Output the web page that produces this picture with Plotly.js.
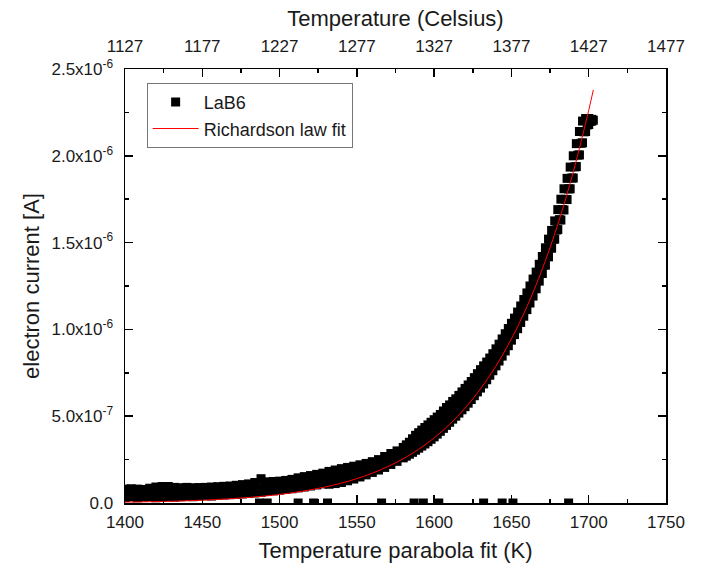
<!DOCTYPE html>
<html>
<head>
<meta charset="utf-8">
<script src="https://cdn.plot.ly/plotly-3.0.1.min.js"></script>
<style>html,body{margin:0;padding:0;background:#fff;}#chart{width:705px;height:566px;}</style>
</head>
<body>
<div id="chart"></div>
<script>
// Temperatures (K) of the measured points
const tempK = [1400,1404,1408,1412,1416,1420,1424,1428,1432,1436,1440,1444,1448,1452,1456,1460,1464,1468,1472,1476,1480,1484,1488,1492,1496,1500,1504,1508,1512,1516,1520,1524,1528,1532,1536,1540,1544,1548,1552,1556,1560,1564,1568,1572,1576,1580,
1582,1584,1586,1588,1590,1592,1594,1596,1598,1600,1602,1604,1606,1608,1610,1612,1614,1616,1618,1620,1622,1624,1626,1628,1630,1632,1634,1636,1638,1640,1642,1644,1646,1648,1650,1652,1654,1656,1658,1660,1662,1664,1666,1668,1670,1672,1674,1676,1678,1680,1682,1684,1686,1688,1690,1692,1694,1696,1698,1700,1702];
// Temperatures (K) of the points inside the band (between the two edges)
const tempMidK = [1402,1406,1410,1414,1418,1422,1426,1430,1434,1438,1442,1446,1450,1454,1458,1462,1466,1470,1474,1478,1482,1486,1490,1494,1498,1502,1506,1510,1514,1518,1522,1526,1530,1534,1538,1542,1546,1550,1554,1558,1562,1566,1570,1574,1578,1581,
1583,1585,1587,1589,1591,1593,1595,1597,1599,1601,1603,1605,1607,1609,1611,1613,1615,1617,1619,1621,1623,1625,1627,1629,1631,1633,1635,1637,1639,1641,1643,1645,1647,1649,1651,1653,1655,1657,1659,1661,1663,1665,1667,1669,1671,1673,1675,1677,1679,1681,1683,1685,1687,1689,1691,1693,1695,1697,1699,1701,1703];
// Electron current (microampere), upper edge of the measured band
const currentUpper = [0.080,0.082,0.080,0.078,0.085,0.092,0.095,0.095,0.090,0.088,0.090,0.088,0.089,0.090,0.092,0.094,0.096,0.098,0.102,0.106,0.110,0.118,0.140,0.122,0.124,0.126,0.130,0.136,0.145,0.152,0.158,0.165,0.172,0.182,0.190,0.198,0.205,0.212,0.220,0.228,0.238,0.250,0.268,0.285,0.300,0.320,
0.335,0.350,0.370,0.390,0.405,0.420,0.435,0.450,0.465,0.480,0.495,0.510,0.530,0.550,0.565,0.585,0.600,0.620,0.640,0.660,0.680,0.700,0.722,0.745,0.768,0.790,0.812,0.835,0.860,0.888,0.915,0.945,0.975,1.005,1.035,1.065,1.100,1.135,1.172,1.210,1.250,1.290,1.330,1.375,1.420,1.470,1.520,1.570,1.625,1.690,1.750,1.810,1.870,1.935,2.000,2.070,2.140,2.200,2.215,2.215,2.210];
// middle of the band
const currentMiddle = [0.056,0.058,0.055,0.056,0.060,0.061,0.063,0.066,0.062,0.062,0.064,0.062,0.064,0.066,0.066,0.069,0.071,0.073,0.076,0.079,0.082,0.088,0.100,0.094,0.097,0.100,0.104,0.109,0.116,0.122,0.128,0.134,0.141,0.145,0.151,0.158,0.166,0.175,0.185,0.195,0.207,0.220,0.236,0.253,0.270,0.290,
0.302,0.315,0.331,0.347,0.360,0.374,0.387,0.401,0.416,0.430,0.446,0.461,0.480,0.498,0.515,0.534,0.550,0.569,0.588,0.607,0.627,0.648,0.670,0.692,0.715,0.738,0.761,0.785,0.811,0.839,0.866,0.895,0.925,0.955,0.986,1.017,1.052,1.087,1.124,1.162,1.201,1.241,1.282,1.326,1.371,1.420,1.469,1.519,1.572,1.632,1.690,1.749,1.809,1.872,1.936,2.004,2.072,2.138,2.178,2.198,2.205];
// lower edge of the band
const currentLower = [0.032,0.035,0.030,0.034,0.036,0.030,0.032,0.036,0.034,0.036,0.038,0.036,0.040,0.042,0.040,0.044,0.046,0.048,0.050,0.052,0.055,0.058,0.062,0.066,0.070,0.074,0.078,0.082,0.087,0.092,0.098,0.104,0.110,0.108,0.112,0.118,0.128,0.138,0.150,0.162,0.176,0.190,0.205,0.222,0.240,0.260,
0.270,0.281,0.292,0.304,0.316,0.328,0.340,0.353,0.367,0.381,0.397,0.413,0.430,0.447,0.465,0.483,0.500,0.518,0.537,0.555,0.575,0.596,0.618,0.640,0.662,0.686,0.710,0.736,0.762,0.790,0.818,0.846,0.876,0.906,0.938,0.970,1.004,1.040,1.076,1.114,1.152,1.192,1.234,1.278,1.322,1.370,1.418,1.468,1.520,1.575,1.630,1.688,1.748,1.810,1.872,1.938,2.005,2.075,2.140,2.180,2.200];
// isolated readings near zero
const dropoutK = [1487,1492,1512,1522,1531,1566,1587,1593,1603,1632,1644,1651,1687];
const dropoutCurrent = [0,0,0,0,0,0,0,0,0,0,0,0,0];
// Richardson law fit (microampere)
const fitK = [1400,1410,1420,1430,1440,1450,1460,1470,1480,1490,1500,1510,1520,1530,1540,1550,1560,1570,1580,1590,1600,1610,1620,1630,1640,1650,1660,1670,1680,1690,1700,1703];
const fitCurrent = [0.0049,0.0063,0.0080,0.0101,0.0128,0.0162,0.0203,0.0255,0.0319,0.0397,0.0493,0.0612,0.0756,0.0932,0.1145,0.1404,0.1717,0.2095,0.2550,0.3096,0.375,0.4532,0.5466,0.6574,0.7891,0.9456,1.1303,1.3486,1.6050,1.9069,2.2620,2.380];
// axis ticks
const yTickVals = [0, 0.5, 1.0, 1.5, 2.0, 2.5];
const yTickText = ['0.0','5.0x10<sup>-7</sup>','1.0x10<sup>-6</sup>','1.5x10<sup>-6</sup>','2.0x10<sup>-6</sup>','2.5x10<sup>-6</sup>'];
const KELVIN_OFFSET = 273;

const toA = v => v * 1e-6;
const dataX = tempK.concat(tempMidK, tempK, dropoutK);
const dataY = currentUpper.concat(currentMiddle, currentLower, dropoutCurrent).map(toA);

const FONT = 'Liberation Sans, Arial, sans-serif';
const TXT = '#1a1a1a';

const traces = [
  {type:'scatter', mode:'markers', name:'LaB6', x:dataX, y:dataY,
   marker:{symbol:'square', size:9, color:'#000', line:{width:0}}, hoverinfo:'skip'},
  {type:'scatter', mode:'lines', name:'Richardson law fit', x:fitK, y:fitCurrent.map(toA),
   line:{color:'#ff0000', width:1, shape:'spline'}, hoverinfo:'skip'},
  {type:'scatter', mode:'lines', x:fitK.map(t => t - KELVIN_OFFSET), y:fitCurrent.map(toA), xaxis:'x2',
   line:{width:0}, opacity:0, showlegend:false, hoverinfo:'skip'}
];

const axisCommon = {
  showgrid:false, zeroline:false, showline:true, linecolor:'#000', linewidth:1.5,
  ticks:'inside', ticklen:8, tickwidth:1.5, tickcolor:'#000',
  tickfont:{family:FONT, size:17, color:TXT}
};

const layout = {
  width:705, height:566,
  margin:{l:125, r:39, t:69, b:63},
  paper_bgcolor:'#fff', plot_bgcolor:'#fff',
  font:{family:FONT, color:TXT},
  showlegend:true,
  legend:{x:0.04, y:0.968, xanchor:'left', yanchor:'top', bgcolor:'#fff',
          bordercolor:'#777', borderwidth:1, font:{family:FONT, size:18, color:TXT},
          itemwidth:46, tracegroupgap:0},
  xaxis: Object.assign({}, axisCommon, {
    range:[1400,1750], tick0:1400, dtick:50, mirror:true, ticklabelstandoff:3,
    minor:{ticks:'inside', ticklen:4, tickwidth:1.5, tickcolor:'#000', dtick:25, tick0:1400},
    title:{text:'Temperature parabola fit (K)', font:{family:FONT, size:22, color:TXT}, standoff:11}
  }),
  xaxis2: Object.assign({}, axisCommon, {
    overlaying:'x', side:'top', anchor:'y', ticklabelstandoff:9,
    range:[1127,1477], tick0:1127, dtick:50,
    minor:{ticks:'inside', ticklen:4, tickwidth:1.5, tickcolor:'#000', dtick:25, tick0:1127},
    title:{text:'Temperature (Celsius)', font:{family:FONT, size:22, color:TXT}, standoff:4}
  }),
  yaxis: Object.assign({}, axisCommon, {
    range:[0, 2.5e-6], tickvals:yTickVals.map(toA), ticktext:yTickText, mirror:'ticks', ticklabelstandoff:7,
    minor:{ticks:'inside', ticklen:4, tickwidth:1.5, tickcolor:'#000', dtick:0.25e-6, tick0:0},
    title:{text:'electron current [A]', font:{family:FONT, size:22, color:TXT}, standoff:6}
  })
};

Plotly.newPlot('chart', traces, layout, {staticPlot:true, displayModeBar:false});
</script>
</body>
</html>
